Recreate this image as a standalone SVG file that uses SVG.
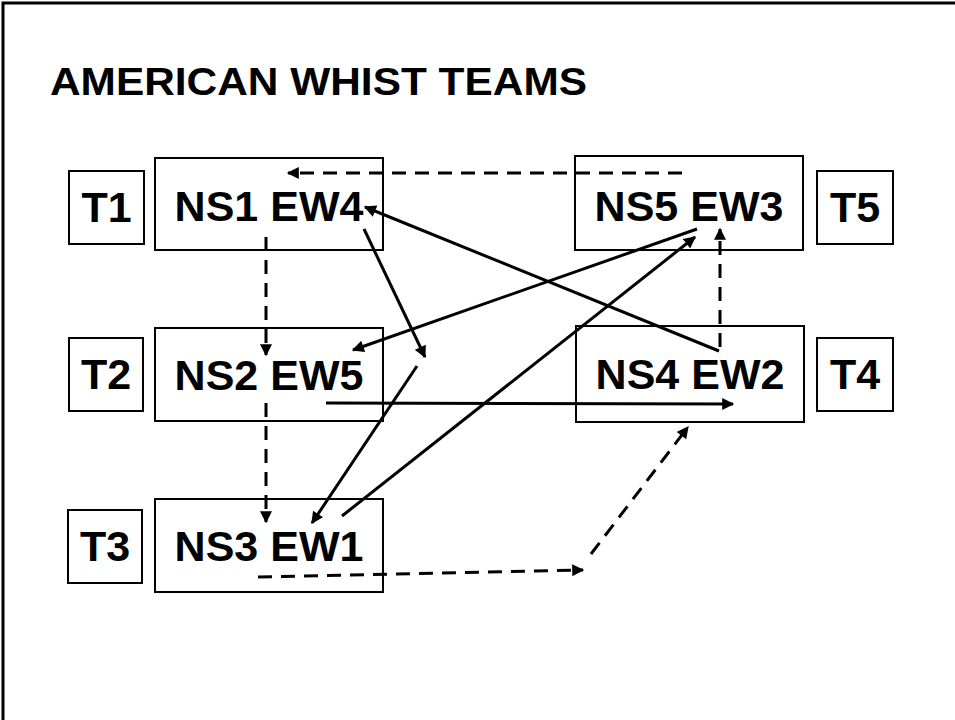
<svg xmlns="http://www.w3.org/2000/svg" width="955" height="720" viewBox="0 0 955 720">
<style>
.frame{fill:none;stroke:#000;stroke-width:3}
.box{fill:#fff;stroke:#000;stroke-width:2}
.lbl{font-family:"Liberation Sans",Arial,sans-serif;font-weight:bold;font-size:43px;fill:#000;text-anchor:middle}
.title{font-family:"Liberation Sans",Arial,sans-serif;font-weight:bold;font-size:39px;fill:#000}
.solid{fill:none;stroke:#000;stroke-width:3;marker-end:url(#ah)}
.dash{fill:none;stroke:#000;stroke-width:3;stroke-dasharray:14 9;marker-end:url(#ah)}
</style>
<defs>
<marker id="ah" viewBox="0 0 10 10" refX="9" refY="5" markerWidth="4.3" markerHeight="4" orient="auto" markerUnits="strokeWidth">
<path d="M0,0 L10,5 L0,10 z" fill="#000"/>
</marker>
</defs>
<rect x="0" y="0" width="955" height="720" fill="#fff"/>
<rect class="frame" x="3" y="3" width="980" height="740"/>
<text class="title" x="50" y="95" textLength="537" lengthAdjust="spacingAndGlyphs">AMERICAN WHIST TEAMS</text>

<g id="T1"><rect class="box" x="69" y="171" width="75" height="73"/><text class="lbl" x="106.5" y="222">T1</text></g>
<g id="T2"><rect class="box" x="69" y="338" width="74" height="73"/><text class="lbl" x="106" y="389">T2</text></g>
<g id="T3"><rect class="box" x="68" y="510" width="74" height="73"/><text class="lbl" x="105" y="561">T3</text></g>
<g id="T4"><rect class="box" x="817" y="338" width="76" height="73"/><text class="lbl" x="855" y="389">T4</text></g>
<g id="T5"><rect class="box" x="817" y="171" width="76" height="73"/><text class="lbl" x="855" y="222">T5</text></g>

<g id="NS1EW4"><rect class="box" x="155" y="158" width="228" height="92"/><text class="lbl" x="269" y="221">NS1 EW4</text></g>
<g id="NS2EW5"><rect class="box" x="155" y="328" width="228" height="93"/><text class="lbl" x="269" y="390">NS2 EW5</text></g>
<g id="NS3EW1"><rect class="box" x="155" y="499" width="228" height="93"/><text class="lbl" x="269" y="561">NS3 EW1</text></g>
<g id="NS5EW3"><rect class="box" x="575" y="156" width="228" height="94"/><text class="lbl" x="689" y="221">NS5 EW3</text></g>
<g id="NS4EW2"><rect class="box" x="576" y="326" width="228" height="96"/><text class="lbl" x="690" y="389">NS4 EW2</text></g>

<g id="connectors">
<path class="dash" d="M682,173 L288,173"/>
<path class="dash" d="M266,237 L266,355"/>
<path class="dash" d="M266,403 L266,522"/>
<path class="dash" d="M258,577 L583,570"/>
<path class="dash" d="M591,554 L688,427"/>
<path class="dash" d="M720,347 L720,229"/>
<path class="solid" d="M719,351 L365,207"/>
<path class="solid" d="M364,229 L425,357"/>
<path class="solid" d="M417,366 L312,523"/>
<path class="solid" d="M697,229 L353,350"/>
<path class="solid" d="M342,516 L695,237"/>
<path class="solid" d="M326,403 L733,404"/>
</g>
</svg>
